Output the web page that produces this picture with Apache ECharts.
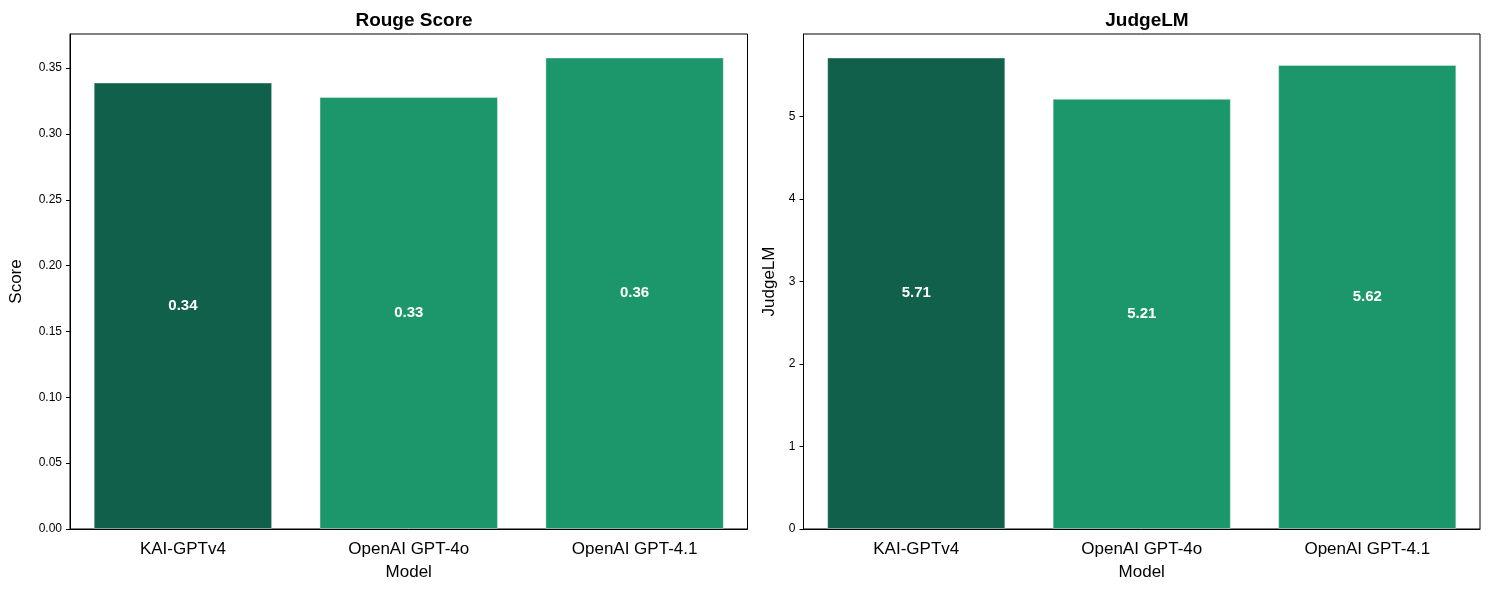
<!DOCTYPE html>
<html><head><meta charset="utf-8">
<script src="https://cdn.jsdelivr.net/npm/echarts@6/dist/echarts.min.js"></script>
<style>html,body{margin:0;padding:0;background:#fff}#c{width:1489px;height:590px}</style>
</head><body><div id="c"></div>
<script>
const models = ['KAI-GPTv4', 'OpenAI GPT-4o', 'OpenAI GPT-4.1'];
const rougeScores = [0.339, 0.328, 0.358];
const judgeScores = [5.71, 5.21, 5.62];
const barColors = ['#10604c', '#1b976b', '#1b976b'];

const FONT = '"Liberation Sans", Arial, sans-serif';
const chart = echarts.init(document.getElementById('c'), null, {renderer: 'canvas'});

function xAxis(gi) {
  return {
    type: 'category', gridIndex: gi, data: models,
    name: 'Model', nameLocation: 'middle', nameGap: 35,
    nameTextStyle: {fontFamily: FONT, fontSize: 17, color: '#000'},
    axisLine: {lineStyle: {color: '#000', width: 1}},
    axisTick: {alignWithLabel: true, length: 4, lineStyle: {color: '#000'}},
    axisLabel: {fontFamily: FONT, fontSize: 17, color: '#000', margin: 12},
    splitLine: {show: false}
  };
}
function yAxis(gi, name, max, interval, digits, gap) {
  return {
    type: 'value', gridIndex: gi, min: 0, max: max, interval: interval,
    name: name, nameLocation: 'middle', nameGap: gap,
    nameTextStyle: {fontFamily: FONT, fontSize: 17, color: '#000'},
    axisLine: {show: true, lineStyle: {color: '#000', width: 1}},
    axisTick: {show: true, length: 4, lineStyle: {color: '#000'}},
    axisLabel: {fontFamily: FONT, fontSize: 12, color: '#000', margin: 8,
      showMaxLabel: false,
      formatter: v => v.toFixed(digits)},
    splitLine: {show: false}
  };
}
function series(gi, vals) {
  return {
    type: 'bar', xAxisIndex: gi, yAxisIndex: gi, barWidth: '79%',
    data: vals.map((v, i) => ({value: v, itemStyle: {color: barColors[i]}})),
    itemStyle: {borderColor: 'rgba(255,255,255,0.35)', borderWidth: 1},
    label: {show: true, position: 'inside', color: '#fff', fontFamily: FONT,
      fontSize: 15, fontWeight: 'bold', formatter: p => p.value.toFixed(2)}
  };
}

chart.setOption({
  backgroundColor: '#fff',
  animation: false,
  title: [
    {text: 'Rouge Score', left: 409, top: 6, textAlign: 'center',
     textStyle: {fontFamily: FONT, fontSize: 19, fontWeight: 'bold', color: '#000'}},
    {text: 'JudgeLM', left: 1142, top: 6, textAlign: 'center',
     textStyle: {fontFamily: FONT, fontSize: 19, fontWeight: 'bold', color: '#000'}}
  ],
  grid: [
    {left: 70, right: 741.5, top: 34, bottom: 61, show: true, borderColor: '#000', borderWidth: 1, backgroundColor: 'transparent'},
    {left: 803.5, right: 9, top: 34, bottom: 61, show: true, borderColor: '#000', borderWidth: 1, backgroundColor: 'transparent'}
  ],
  xAxis: [xAxis(0), xAxis(1)],
  yAxis: [
    yAxis(0, 'Score', 0.358 * 1.05, 0.05, 2, 45),
    yAxis(1, 'JudgeLM', 5.71 * 1.05, 1, 0, 26)
  ],
  series: [series(0, rougeScores), series(1, judgeScores)]
});
</script></body></html>
